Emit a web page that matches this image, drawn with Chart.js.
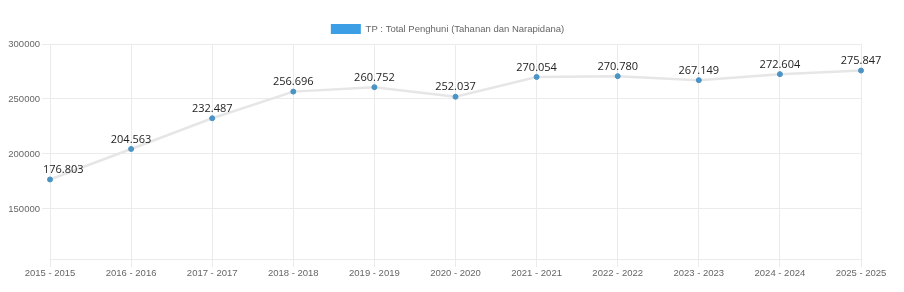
<!DOCTYPE html>
<html>
<head>
<meta charset="utf-8">
<script src="https://cdn.jsdelivr.net/npm/chart.js@4"></script>
<style>
  html, body { margin: 0; padding: 0; background: #fff; }
  #wrap { width: 904px; height: 292px; }
</style>
</head>
<body>
<div id="wrap"><canvas id="mylinechart" width="904" height="292"></canvas></div>
<script>
const years = ['2015 - 2015', '2016 - 2016', '2017 - 2017', '2018 - 2018', '2019 - 2019', '2020 - 2020',
  '2021 - 2021', '2022 - 2022', '2023 - 2023', '2024 - 2024', '2025 - 2025']
const totalPenghuni = [176803, 204563, 232487, 256696, 260752, 252037, 270054, 270780, 267149, 272604, 275847]
const yTicks = [150000, 200000, 250000, 300000]

// titik ribuan gaya Indonesia: 176.803
function formatTitik(v){
    return String(v).replace(/\B(?=(\d{3})+(?!\d))/g, '.')
}

// tulis angka di atas tiap titik
const labelDiatasTitik = {
    id: 'labelDiatasTitik',
    afterLayout(chart){
        // legend sedikit ke kanan, seperti aslinya
        chart.legend.left += 17
        chart.legend.right += 17
    },
    afterDatasetsDraw(chart){
        const ctx = chart.ctx
        const meta = chart.getDatasetMeta(0)
        const kiri = chart.chartArea.left - 7
        ctx.save()
        ctx.font = '11px "Open Sans"'
        ctx.fillStyle = '#222'
        ctx.textAlign = 'center'
        ctx.textBaseline = 'bottom'
        meta.data.forEach(function(pt, i){
            const txt = formatTitik(totalPenghuni[i])
            const w = ctx.measureText(txt).width
            let x = pt.x
            if(x - w / 2 < kiri){
                x = kiri + w / 2
            }
            ctx.fillText(txt, x, pt.y - 4)
        })
        ctx.restore()
    }
}

const canvasforline = document.getElementById('mylinechart')
new Chart(canvasforline, {
    type: 'line',
    data: {
        labels: years,
        datasets: [{
            label: 'TP : Total Penghuni (Tahanan dan Narapidana)',
            data: totalPenghuni,
            borderColor: '#e6e6e6',
            backgroundColor: '#3c9ee5',
            borderWidth: 2.5,
            pointBackgroundColor: '#4b93c5',
            pointBorderColor: '#4b93c5',
            pointRadius: 2.5,
            pointBorderWidth: 1,
            tension: 0,
            fill: false
        }]
    },
    options: {
        responsive: false,
        animation: false,
        layout: { padding: { left: 0, right: 43, top: 14, bottom: 0 } },
        plugins: {
            legend: {
                labels: {
                    boxWidth: 30,
                    boxHeight: 10,
                    color: '#666',
                    font: { family: 'Arial', size: 9.5 },
                    generateLabels(chart){
                        const ds = chart.data.datasets[0]
                        return [{ text: ds.label, fillStyle: '#3c9ee5', strokeStyle: '#3c9ee5', lineWidth: 0, datasetIndex: 0, fontColor: '#666' }]
                    }
                }
            },
            tooltip: { enabled: false }
        },
        scales: {
            x: {
                grid: { color: '#ebebeb', tickLength: 8 },
                border: { color: '#ebebeb' },
                ticks: { color: '#666', font: { family: 'Arial', size: 9.5 }, maxRotation: 0, padding: 1 },
                afterFit(scale){ scale.height = 33 }
            },
            y: {
                min: 104500,
                max: 300000,
                grid: { color: '#ebebeb', tickLength: 8 },
                border: { color: '#ebebeb' },
                afterBuildTicks(scale){ scale.ticks = yTicks.map(v => ({ value: v })) },
                ticks: { color: '#666', font: { family: 'Arial', size: 9.5 }, padding: 2, callback: v => String(v) },
                afterFit(scale){ scale.width = 50 }
            }
        }
    },
    plugins: [labelDiatasTitik]
})
</script>
</body>
</html>
